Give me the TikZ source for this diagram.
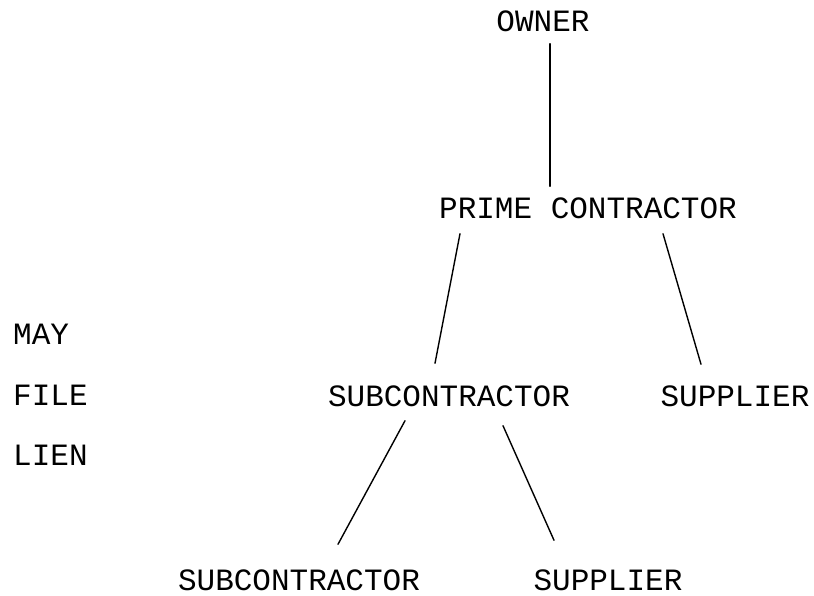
\documentclass[tikz,border=0pt]{standalone}
\usepackage{fontspec}
\setmonofont{Liberation Mono}
\usetikzlibrary{calc}
\begin{document}
\begin{tikzpicture}[x=1pt,y=-1pt,
  lbl/.style={inner sep=0pt,font=\ttfamily\fontsize{31}{31}\selectfont},
  conn/.style={line width=1.4pt,line cap=round}]
\useasboundingbox (0,0) rectangle (814,596);
\node[lbl] (owner) at (543,21) {OWNER};
\node[lbl] (pc) at (588,208) {PRIME CONTRACTOR};
\node[lbl] (sub) at (449,396) {SUBCONTRACTOR};
\node[lbl] (sup) at (735,396) {SUPPLIER};
\node[lbl] (ss) at (299,580) {SUBCONTRACTOR};
\node[lbl] (sup2) at (608,580) {SUPPLIER};
\node[lbl,anchor=west] (may) at (13,334) {MAY};
\node[lbl,anchor=west] (file) at (13,395) {FILE};
\node[lbl,anchor=west] (lien) at (13,455) {LIEN};
\draw[conn] ($(owner.south)+(7,12)$) -- ($(pc.north)+(-38,-11)$);
\draw[conn] ($(pc.south)+(-128,15)$) -- ($(sub.north)+(-14,-22)$);
\draw[conn] ($(pc.south)+(75,15)$) -- ($(sup.north)+(-34,-21)$);
\draw[conn] ($(sub.south)+(-44,14)$) -- ($(ss.north)+(39,-25)$);
\draw[conn] ($(sub.south)+(54,19)$) -- ($(sup2.north)+(-54,-29)$);
\end{tikzpicture}
\end{document}
